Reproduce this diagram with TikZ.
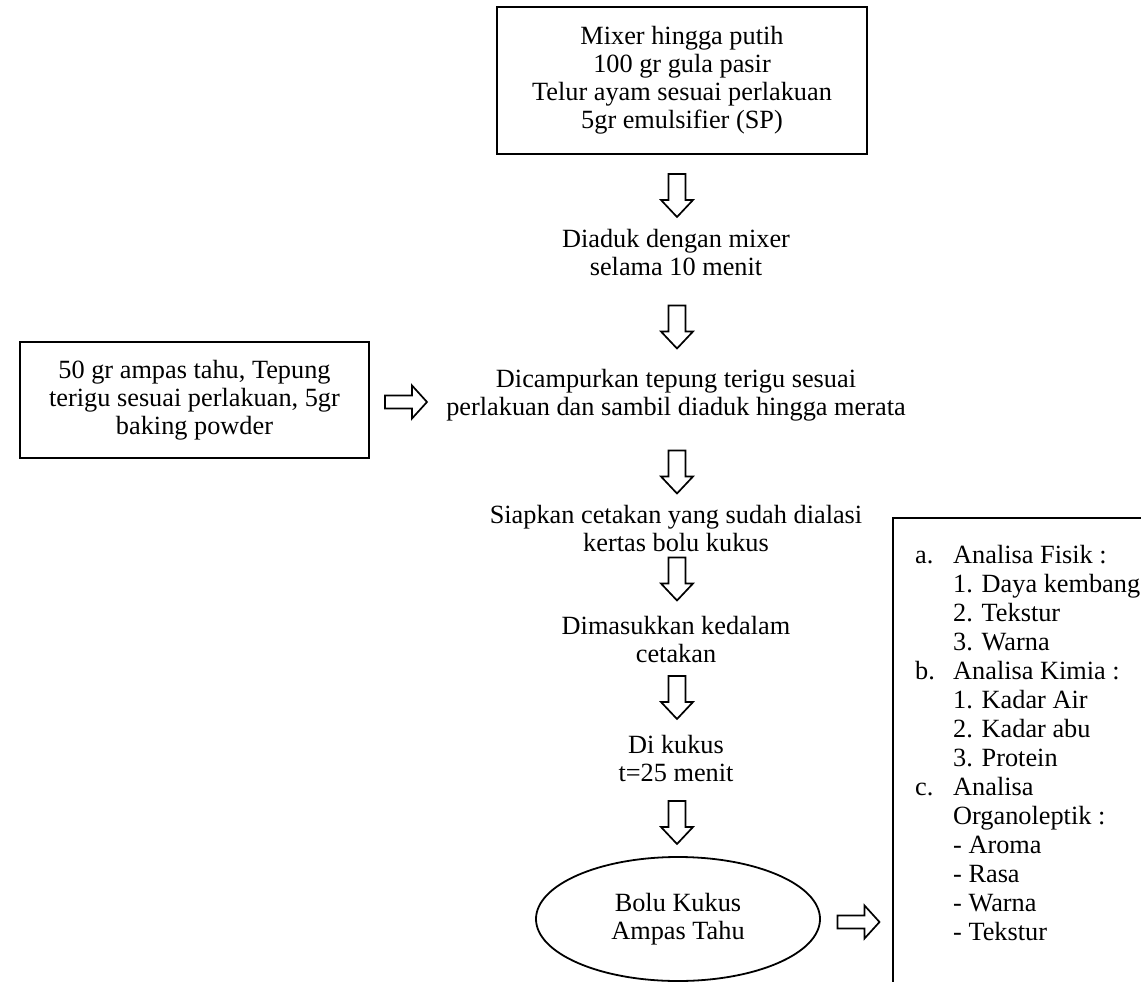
\documentclass[tikz,border=0pt]{standalone}
\usepackage{fontspec}
\setmainfont{Liberation Serif}
\usetikzlibrary{shapes.geometric}

\tikzset{
  teks/.style={align=center, inner sep=0pt, font=\fontsize{26.3}{28}\selectfont},
  kotak/.style={teks, draw, line width=1.8pt},
  pics/panahbawah/.style={code={
    \draw[line width=1.7pt, line join=miter] (-8.5,-21.5) -- (8.5,-21.5) -- (8.5,4.5) -- (16,4.5)
      -- (0,21.5) -- (-16,4.5) -- (-8.5,4.5) -- cycle;}},
  pics/panahkanan/.style={code={
    \draw[line width=1.7pt, line join=miter] (-21,-6.5) -- (6,-6.5) -- (6,-16.5) -- (21,0)
      -- (6,16.5) -- (6,6.5) -- (-21,6.5) -- cycle;}},
}

\begin{document}
\begin{tikzpicture}[x=1pt, y=-1pt]
	\useasboundingbox (0,0) rectangle (1141,982);
	\clip (0,0) rectangle (1141,982);
	% Kolom tengah
	\node[kotak, minimum width=370pt, minimum height=147pt] (mixer) at (682,80.5)
		{Mixer hingga putih\\100 gr gula pasir\\Telur ayam sesuai perlakuan\\5gr emulsifier (SP)};
	\pic (ar1) at (677,195.5) {panahbawah};
	\node[teks] (aduk) at (676,253) {Diaduk dengan mixer\\selama 10 menit};
	\pic (ar2) at (677,327) {panahbawah};
	\node[teks] (campur) at (676,395) {Dicampurkan tepung terigu sesuai\\perlakuan dan sambil diaduk hingga merata};
	\pic (ar3) at (677,472) {panahbawah};
	\node[teks] (siapkan) at (676,528) {Siapkan cetakan yang sudah dialasi\\kertas bolu kukus};
	\pic (ar4) at (677,579) {panahbawah};
	\node[teks] (masuk) at (676,639) {Dimasukkan kedalam\\cetakan};
	\pic (ar5) at (677,697.5) {panahbawah};
	\node[teks] (kukus) at (676,758) {Di kukus\\t=25 menit};
	\pic (ar6) at (677,822.5) {panahbawah};
	\node[teks, ellipse, draw, line width=1.8pt, minimum width=284pt, minimum height=124pt] (bolu) at (678,919)
		{Bolu Kukus\\Ampas Tahu};
	% Bahan tambahan
	\node[kotak, minimum width=349pt, minimum height=116pt] (bahan) at (194.5,400)
		{50 gr ampas tahu, Tepung\\terigu sesuai perlakuan, 5gr\\baking powder};
	\pic (arL) at (406,402) {panahkanan};
	% Analisa
	\pic (arR) at (858.5,922) {panahkanan};
	\draw[line width=1.8pt] (893,518) rectangle (1200,1010);
	\node[teks, align=left, anchor=north west, font=\fontsize{26.3}{29}\selectfont] (analisa) at (915,545)
		{\makebox[38pt][l]{a.}Analisa Fisik :\\
		\hspace*{38pt}1. Daya kembang\\
		\hspace*{38pt}2. Tekstur\\
		\hspace*{38pt}3. Warna\\
		\makebox[38pt][l]{b.}Analisa Kimia :\\
		\hspace*{38pt}1. Kadar Air\\
		\hspace*{38pt}2. Kadar abu\\
		\hspace*{38pt}3. Protein\\
		\makebox[38pt][l]{c.}Analisa\\
		\hspace*{38pt}Organoleptik :\\
		\hspace*{38pt}- Aroma\\
		\hspace*{38pt}- Rasa\\
		\hspace*{38pt}- Warna\\
		\hspace*{38pt}- Tekstur};
\end{tikzpicture}
\end{document}
